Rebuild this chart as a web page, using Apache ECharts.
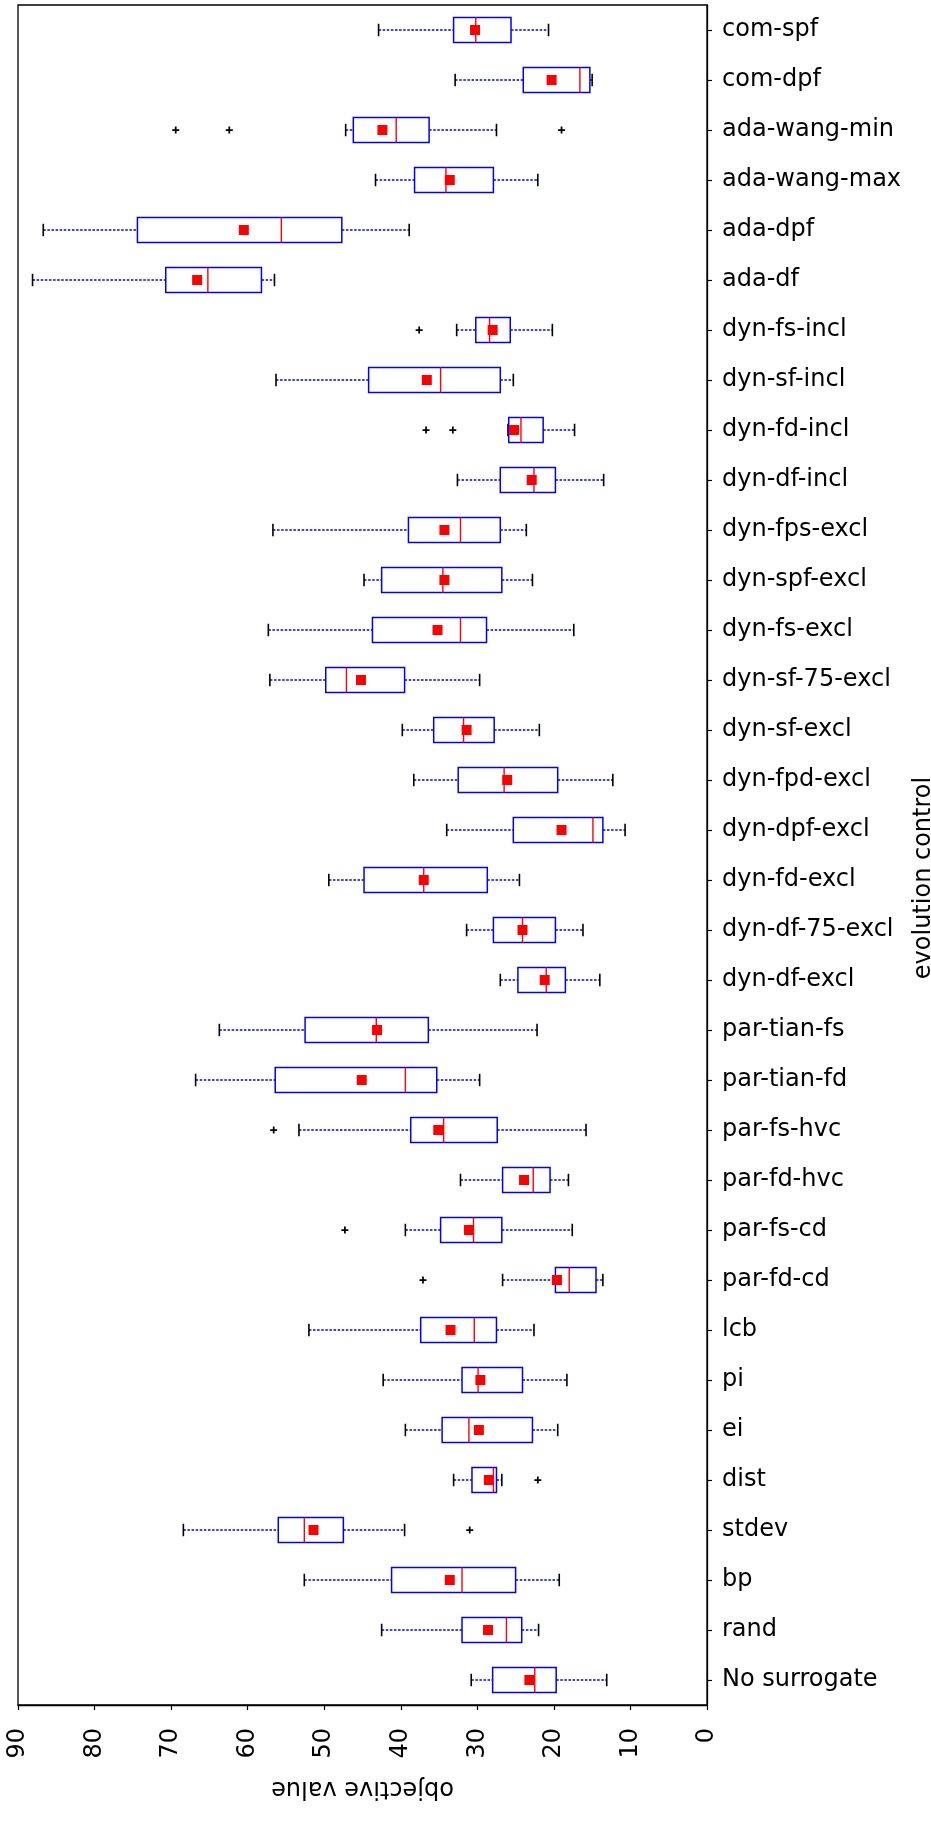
<!DOCTYPE html>
<html>
<head>
<meta charset="utf-8">
<script src="https://cdn.jsdelivr.net/npm/echarts@6/dist/echarts.min.js"></script>
<style>
html,body{margin:0;padding:0;background:#fff;}
#chart{width:931px;height:1829px;}
</style>
</head>
<body>
<div id="chart"></div>
<script>
// categories listed top to bottom
const categories = ['com-spf','com-dpf','ada-wang-min','ada-wang-max','ada-dpf','ada-df',
  'dyn-fs-incl','dyn-sf-incl','dyn-fd-incl','dyn-df-incl','dyn-fps-excl','dyn-spf-excl',
  'dyn-fs-excl','dyn-sf-75-excl','dyn-sf-excl','dyn-fpd-excl','dyn-dpf-excl','dyn-fd-excl',
  'dyn-df-75-excl','dyn-df-excl','par-tian-fs','par-tian-fd','par-fs-hvc','par-fd-hvc',
  'par-fs-cd','par-fd-cd','lcb','pi','ei','dist','stdev','bp','rand','No surrogate'];

const whiskerMax = [42.9,32.9,47.2,43.3,86.7,88.1,32.7,56.3,26.0,32.6,56.7,44.8,57.3,57.1,39.8,38.3,34.0,49.4,31.4,27.0,63.7,66.8,53.3,32.2,39.4,26.7,52.0,42.3,39.4,33.1,68.4,52.6,42.5,30.8];
const quartile3  = [33.1,24.0,46.2,38.2,74.4,70.7,30.2,44.2,25.9,27.0,39.0,42.5,43.7,49.8,35.7,32.5,25.3,44.8,27.9,24.7,52.5,56.4,38.7,26.7,34.8,19.8,37.4,32.0,34.6,30.7,56.0,41.2,32.0,28.0];
const medians    = [30.2,16.6,40.6,34.1,55.6,65.2,28.4,34.8,24.3,22.6,32.2,34.5,32.2,47.1,31.8,26.5,14.9,37.0,24.1,21.0,43.2,39.4,34.4,22.7,30.5,18.0,30.4,29.9,31.1,27.9,52.6,32.0,26.2,22.5];
const quartile1  = [25.6,15.3,36.3,27.9,47.7,58.2,25.7,27.0,21.4,19.8,27.0,26.8,28.8,39.5,27.8,19.5,13.6,28.7,19.8,18.5,36.4,35.3,27.4,20.5,26.8,14.5,27.5,24.1,22.8,27.5,47.5,25.0,24.2,19.7];
const whiskerMin = [20.7,15.0,27.5,22.1,38.9,56.5,20.2,25.3,17.3,13.5,23.6,22.8,17.4,29.7,21.9,12.3,10.7,24.5,16.2,14.0,22.2,29.7,15.8,18.1,17.6,13.6,22.6,18.3,19.5,26.8,39.5,19.3,22.0,13.1];
const means      = [30.3,20.3,42.4,33.6,60.5,66.6,28.0,36.6,25.2,22.9,34.3,34.3,35.2,45.2,31.4,26.1,19.0,37.0,24.1,21.2,43.1,45.1,35.1,23.9,31.1,19.6,33.5,29.6,29.8,28.5,51.4,33.6,28.6,23.2];
const outliers   = [[],[],[69.4,62.4,19.0],[],[],[],[37.6],[],[36.7,33.2],[],[],[],[],[],[],[],[],[],[],[],[],[],[56.6],[],[47.3],[37.1],[],[],[],[22.1],[31.0],[],[],[]];
const valueTicks = {min: 0, max: 90, interval: 10};

const FONT = 'DejaVu Sans';
const FS = 24;

const boxData = categories.map((c, i) => [i, whiskerMin[i], quartile1[i], medians[i], quartile3[i], whiskerMax[i]]);
const meanData = categories.map((c, i) => [means[i], i]);
const outlierData = [];
outliers.forEach((arr, i) => arr.forEach(v => outlierData.push([v, i])));

const chart = echarts.init(document.getElementById('chart'), null, {renderer: 'canvas'});

const option = {
  animation: false,
  backgroundColor: '#fff',
  grid: {left: 18, right: 224, top: 5, height: 1700, show: true, borderColor: '#000', borderWidth: 1.3,
         backgroundColor: 'transparent', containLabel: false, outerBoundsMode: 'none'},
  xAxis: {
    type: 'value', min: valueTicks.min, max: valueTicks.max, interval: valueTicks.interval,
    inverse: true, position: 'bottom',
    splitLine: {show: false},
    axisLine: {show: true, onZero: false, lineStyle: {color: '#000', width: 1.3}},
    axisTick: {show: true, length: 5, inside: false, lineStyle: {color: '#000', width: 1.2}},
    axisLabel: {rotate: 90, margin: 23, fontSize: FS, color: '#000', fontFamily: FONT},
    name: 'objective value', nameLocation: 'middle', nameRotate: 180, nameGap: 71,
    nameTextStyle: {fontSize: FS, color: '#000', fontFamily: FONT}
  },
  yAxis: {
    type: 'category', data: categories, inverse: true, position: 'right',
    boundaryGap: true,
    splitLine: {show: false},
    axisLine: {show: true, onZero: false, lineStyle: {color: '#000', width: 1.3}},
    axisTick: {show: true, alignWithLabel: true, length: 5, lineStyle: {color: '#000', width: 1.2}},
    axisLabel: {margin: 15, fontSize: FS, color: '#000', fontFamily: FONT},
    name: 'evolution control', nameLocation: 'middle', nameRotate: 90, nameGap: 203,
    nameTextStyle: {fontSize: FS, color: '#000', fontFamily: FONT, padding: [0, 46, 0, 0]}
  },
  series: [
    {
      type: 'custom',
      encode: {x: [1, 2, 3, 4, 5], y: 0},
      data: boxData,
      z: 2,
      renderItem: function (params, api) {
        const i = api.value(0);
        const lo = api.value(1), q1 = api.value(2), med = api.value(3), q3 = api.value(4), hi = api.value(5);
        const y = api.coord([0, i])[1];
        const bw = api.size([0, 1])[1] * 0.5;
        const h = bw / 2;
        const cap = bw / 4;
        const X = v => api.coord([v, i])[0];
        const blueDash = {stroke: '#0000ff', lineWidth: 1.4, lineDash: [2.5, 1.6], fill: null};
        const xa = X(q3), xb = X(q1);
        return {
          type: 'group',
          children: [
            {type: 'line', shape: {x1: X(hi), y1: y, x2: xa, y2: y}, style: blueDash},
            {type: 'line', shape: {x1: xb, y1: y, x2: X(lo), y2: y}, style: blueDash},
            {type: 'line', shape: {x1: X(hi), y1: y - cap, x2: X(hi), y2: y + cap}, style: {stroke: '#000', lineWidth: 1.6}},
            {type: 'line', shape: {x1: X(lo), y1: y - cap, x2: X(lo), y2: y + cap}, style: {stroke: '#000', lineWidth: 1.6}},
            {type: 'rect', shape: {x: Math.min(xa, xb), y: y - h, width: Math.abs(xb - xa), height: 2 * h}, style: {stroke: '#0000ff', lineWidth: 1.5, fill: null}},
            {type: 'line', shape: {x1: X(med), y1: y - h, x2: X(med), y2: y + h}, style: {stroke: '#ff0000', lineWidth: 1.4}}
          ]
        };
      }
    },
    {
      type: 'scatter', data: meanData, symbol: 'rect', symbolSize: 10, z: 4,
      itemStyle: {color: '#ff0000', opacity: 1}
    },
    {
      type: 'scatter', data: outlierData, z: 3,
      symbol: 'path://M3,0H5V3H8V5H5V8H3V5H0V3H3Z', symbolSize: 7,
      itemStyle: {color: '#000', opacity: 1}
    }
  ]
};
chart.setOption(option);
</script>
</body>
</html>
